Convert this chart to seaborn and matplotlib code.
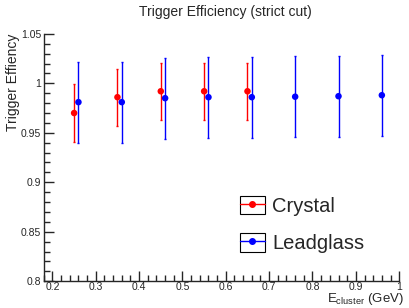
import pandas as pd
import seaborn as sns
import matplotlib.pyplot as plt
import numpy as np
from matplotlib.patches import Rectangle
from matplotlib.lines import Line2D
from matplotlib.legend_handler import HandlerTuple
from matplotlib.ticker import MultipleLocator, FuncFormatter

# valores
crystal_e = [0.25, 0.35, 0.45, 0.55, 0.65]
crystal_eff = [0.970, 0.986, 0.992, 0.992, 0.992]
crystal_err = [0.029, 0.029, 0.029, 0.029, 0.029]

lead_e = [0.26, 0.36, 0.46, 0.56, 0.66, 0.76, 0.86, 0.96]
lead_eff = [0.981, 0.981, 0.985, 0.986, 0.986, 0.9865, 0.987, 0.988]
lead_err = [0.041, 0.041, 0.041, 0.041, 0.041, 0.041, 0.041, 0.041]

df = pd.DataFrame({
    'E': crystal_e + lead_e,
    'eff': crystal_eff + lead_eff,
    'err': crystal_err + lead_err,
    'det': ['Crystal'] * len(crystal_e) + ['Leadglass'] * len(lead_e),
})
colors = {'Crystal': '#ff0000', 'Leadglass': '#0000ff'}

sns.set_style("ticks")
plt.rcParams['font.family'] = ['Liberation Sans', 'DejaVu Sans']

fig = plt.figure(figsize=(4.09, 3.08), dpi=100)
ax = fig.add_axes([0.107, 0.087, 0.869, 0.803])

for det, sub in df.groupby('det'):
    ax.errorbar(sub['E'], sub['eff'], yerr=sub['err'], fmt='none',
                ecolor=colors[det], elinewidth=1.0, capsize=1, capthick=1.0)
sns.scatterplot(data=df, x='E', y='eff', hue='det', palette=colors,
                s=22, edgecolor='none', legend=False, ax=ax, zorder=3)

ax.set_xlim(0.18, 1.0)
ax.set_ylim(0.8, 1.05)
ax.xaxis.set_major_locator(MultipleLocator(0.1))
ax.xaxis.set_minor_locator(MultipleLocator(0.02))
ax.yaxis.set_major_locator(MultipleLocator(0.05))
ax.yaxis.set_minor_locator(MultipleLocator(0.01))
fmt = FuncFormatter(lambda v, p: ('%g' % round(v, 3)))
ax.xaxis.set_major_formatter(fmt)
ax.yaxis.set_major_formatter(fmt)
ax.tick_params(which='both', direction='in', labelsize=7.5, width=1.0)
ax.tick_params(which='major', length=7)
ax.tick_params(which='minor', length=4)
ax.tick_params(axis='x', pad=0.5)
ax.tick_params(axis='y', pad=2)
for s in ['top', 'right']:
    ax.spines[s].set_visible(False)
for s in ['left', 'bottom']:
    ax.spines[s].set_linewidth(1.0)

ax.set_xlabel('')
ax.set_ylabel('')
fig.text(0.55, 0.962, 'Trigger Efficiency (strict cut)', ha='center', va='center', fontsize=10)
fig.text(0.032, 0.89, 'Trigger Effiency', rotation=90, ha='center', va='top', fontsize=10)
fig.text(0.988, 0.019, r'E$_{\mathregular{cluster}}$ (GeV)', ha='right', va='baseline', fontsize=9.5)

handles = []
for det in ['Crystal', 'Leadglass']:
    box = Rectangle((0, 0), 1, 1, facecolor='white', edgecolor='black', linewidth=0.8)
    ln = Line2D([], [], color=colors[det], marker='o', markersize=4, linewidth=1.0)
    handles.append((box, ln))
ax.legend(handles, ['Crystal', 'Leadglass'], handler_map={tuple: HandlerTuple(ndivide=1, pad=0)},
          loc='upper left', bbox_to_anchor=(0.552, 0.41), bbox_transform=fig.transFigure,
          frameon=False, fontsize=14.5, handlelength=1.24, handleheight=1.05,
          handletextpad=0.35, labelspacing=0.85, borderpad=0.2)

plt.savefig('out.png', dpi=100)
